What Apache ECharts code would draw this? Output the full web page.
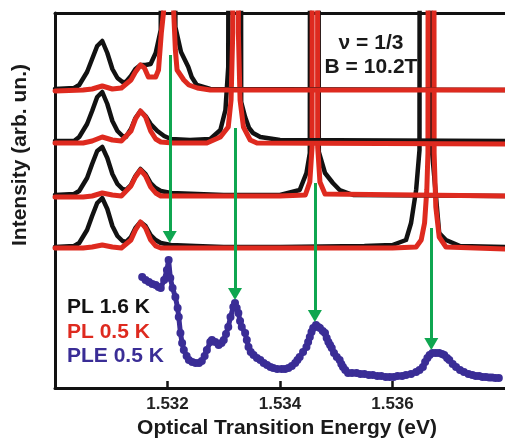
<!DOCTYPE html>
<html>
<head>
<meta charset="utf-8">
<script src="https://cdn.jsdelivr.net/npm/echarts@6/dist/echarts.min.js"></script>
<style>
  html, body { margin: 0; padding: 0; background: #fff; }
  #chart { width: 505px; height: 440px; }
</style>
</head>
<body>
<div id="chart"></div>
<script>
// energy (eV), intensity (arb. un., traces already offset)
const pl16Trace1 = [
  [1.5300, 299], [1.53034, 300], [1.53043, 303], [1.53057, 316], [1.53066, 329], [1.53075, 342],
  [1.53084, 347], [1.53093, 335], [1.53102, 319], [1.53111, 310], [1.53120, 306], [1.53126, 306],
  [1.53135, 312], [1.53143, 319], [1.53152, 323], [1.53161, 323], [1.53170, 324], [1.53179, 335],
  [1.53188, 358], [1.53200, 5000], [1.53214, 361], [1.53224, 336], [1.53237, 321], [1.53243, 311],
  [1.53252, 303], [1.53276, 299], [1.5380, 298]
];
const pl05Trace1 = [
  [1.5300, 297], [1.53050, 298], [1.53066, 299], [1.53084, 302], [1.53102, 299], [1.53118, 300],
  [1.53135, 308], [1.53143, 316], [1.53152, 323], [1.53159, 320], [1.53166, 311], [1.53179, 311],
  [1.53184, 318], [1.53189, 355], [1.53193, 376], [1.53202, 4000], [1.53211, 376], [1.53214, 338],
  [1.53217, 318], [1.53229, 308], [1.53238, 303], [1.53253, 300], [1.53276, 298], [1.5380, 298]
];
const pl16Trace2 = [
  [1.5300, 247], [1.53034, 247], [1.53043, 251], [1.53057, 264], [1.53066, 277], [1.53075, 291],
  [1.53084, 296], [1.53093, 284], [1.53102, 267], [1.53111, 257], [1.53120, 252], [1.53126, 251],
  [1.53135, 259], [1.53143, 270], [1.53152, 277], [1.53161, 272], [1.53170, 264], [1.53182, 257],
  [1.53194, 252], [1.53206, 249], [1.53240, 248], [1.53276, 249], [1.53294, 258], [1.53303, 278],
  [1.53308, 321], [1.53320, 5000], [1.53331, 286], [1.53338, 271], [1.53345, 260], [1.53352, 255],
  [1.53365, 251], [1.53400, 248], [1.5380, 247]
];
const pl05Trace2 = [
  [1.5300, 245], [1.53050, 245], [1.53066, 247], [1.53084, 251], [1.53102, 248], [1.53118, 247],
  [1.53135, 257], [1.53143, 269], [1.53152, 277], [1.53161, 271], [1.53170, 257], [1.53179, 249],
  [1.53188, 246], [1.53210, 245], [1.53270, 245], [1.53294, 251], [1.53308, 261], [1.53313, 288],
  [1.53316, 355], [1.53321, 4000], [1.53326, 355], [1.53329, 288], [1.53335, 261], [1.53347, 248],
  [1.53359, 245], [1.5380, 244]
];
const pl16Trace3 = [
  [1.5300, 193], [1.53034, 194], [1.53043, 197], [1.53057, 210], [1.53066, 224], [1.53075, 237],
  [1.53084, 241], [1.53093, 230], [1.53102, 214], [1.53111, 204], [1.53120, 199], [1.53126, 198],
  [1.53135, 203], [1.53143, 212], [1.53152, 219], [1.53161, 214], [1.53170, 205], [1.53179, 200],
  [1.53188, 197], [1.53206, 195], [1.53300, 193], [1.53400, 193], [1.53435, 198], [1.53447, 215],
  [1.53453, 235], [1.53461, 5000], [1.53469, 236], [1.53480, 215], [1.53494, 205], [1.53506, 198],
  [1.53530, 193], [1.5380, 192]
];
const pl05Trace3 = [
  [1.5300, 191], [1.53050, 191], [1.53066, 192], [1.53084, 195], [1.53102, 193], [1.53118, 192],
  [1.53135, 202], [1.53143, 211], [1.53152, 218], [1.53161, 212], [1.53170, 201], [1.53179, 195],
  [1.53188, 192], [1.53400, 192], [1.53445, 193], [1.53453, 206], [1.53457, 241], [1.53462, 4000],
  [1.53467, 241], [1.53471, 206], [1.53480, 194], [1.5380, 192]
];
const pl16Trace4 = [
  [1.5300, 141], [1.53034, 142], [1.53043, 145], [1.53057, 158], [1.53066, 172], [1.53075, 185],
  [1.53084, 190], [1.53093, 179], [1.53102, 162], [1.53111, 152], [1.53120, 147], [1.53126, 146],
  [1.53135, 151], [1.53143, 160], [1.53152, 166], [1.53161, 162], [1.53170, 153], [1.53179, 148],
  [1.53188, 145], [1.53206, 143], [1.53250, 142], [1.53300, 141], [1.53400, 141], [1.53550, 142],
  [1.53600, 143], [1.53624, 148], [1.53633, 165], [1.53642, 198], [1.53648, 238], [1.53653, 5000],
  [1.53668, 251], [1.53683, 155], [1.53695, 148], [1.53720, 142], [1.5380, 141]
];
const pl05Trace4 = [
  [1.5300, 140], [1.53050, 140], [1.53066, 141], [1.53084, 143], [1.53102, 141], [1.53118, 140],
  [1.53135, 148], [1.53143, 158], [1.53152, 166], [1.53161, 160], [1.53170, 148], [1.53179, 142],
  [1.53188, 140], [1.53400, 140], [1.53600, 140], [1.53642, 141], [1.53651, 148], [1.53657, 165],
  [1.53661, 198], [1.53663, 235], [1.53669, 4000], [1.53674, 235], [1.53677, 181], [1.53683, 151],
  [1.53695, 141], [1.5380, 139]
];
const ple05 = [
  [1.53155, 111], [1.53161, 108], [1.53167, 106], [1.53173, 104], [1.53179, 103], [1.53184, 101],
  [1.53188, 100], [1.53194, 108], [1.53199, 118], [1.53202, 128], [1.53205, 110], [1.53209, 100],
  [1.53214, 91], [1.53218, 80], [1.53220, 71], [1.53223, 55], [1.53226, 45], [1.53229, 38],
  [1.53234, 32], [1.53238, 28], [1.53244, 26], [1.53250, 25], [1.53256, 25], [1.53261, 27],
  [1.53266, 32], [1.53270, 38], [1.53276, 46], [1.53279, 48], [1.53285, 46], [1.53291, 43],
  [1.53296, 45], [1.53300, 48], [1.53304, 54], [1.53308, 61], [1.53312, 71], [1.53317, 81],
  [1.53320, 85], [1.53323, 80], [1.53326, 75], [1.53329, 67], [1.53332, 61], [1.53338, 55],
  [1.53341, 48], [1.53344, 41], [1.53348, 36], [1.53353, 33], [1.53359, 30], [1.53365, 28],
  [1.53371, 25], [1.53377, 23], [1.53383, 21], [1.53388, 20], [1.53395, 19], [1.53403, 19],
  [1.53409, 19], [1.53415, 20], [1.53421, 22], [1.53427, 25], [1.53431, 28], [1.53435, 31],
  [1.53441, 36], [1.53447, 41], [1.53450, 46], [1.53453, 51], [1.53456, 56], [1.53459, 60],
  [1.53464, 63], [1.53468, 61], [1.53471, 60], [1.53476, 57], [1.53480, 55], [1.53483, 50],
  [1.53486, 46], [1.53489, 43], [1.53492, 40], [1.53496, 35], [1.53501, 31], [1.53506, 28],
  [1.53509, 24], [1.53512, 21], [1.53516, 18], [1.53521, 15], [1.53528, 15], [1.53536, 15],
  [1.53543, 14], [1.53550, 14], [1.53558, 13], [1.53565, 13], [1.53573, 12], [1.53580, 12],
  [1.53588, 11], [1.53595, 11], [1.53602, 11], [1.53609, 12], [1.53617, 12], [1.53624, 13],
  [1.53633, 14], [1.53642, 16], [1.53648, 18], [1.53654, 21], [1.53658, 26], [1.53662, 30],
  [1.53666, 33], [1.53671, 35], [1.53677, 35], [1.53683, 35], [1.53688, 34], [1.53692, 33],
  [1.53697, 30], [1.53701, 28], [1.53707, 24], [1.53713, 21], [1.53720, 18], [1.53727, 16],
  [1.53735, 14], [1.53742, 13], [1.53748, 12], [1.53754, 12], [1.53760, 11], [1.53766, 11],
  [1.53772, 10.5], [1.53777, 10.5], [1.53783, 10], [1.53789, 10]
];

// green arrows: from PL peak down to PLE peak
const arrowEnergy = [1.53204, 1.53320, 1.53462, 1.53669];
const arrowFrom = [333, 260, 205, 160];
const arrowTo = [145, 88, 66, 38];

const xTicks = [1.532, 1.534, 1.536];

const FONT = '"Liberation Sans", Arial, sans-serif';
const BLACK = '#121212';
const RED = '#de2a1f';
const BLUE = '#3a2d96';
const GREEN = '#0fa650';
const HEAD = 12;

const chart = echarts.init(document.getElementById('chart'));

const plLine = (name, data, color, width) => ({
  name: name,
  type: 'line',
  data: data,
  showSymbol: false,
  symbol: 'none',
  clip: true,
  silent: true,
  lineStyle: { color: color, width: width, join: 'round', cap: 'round' },
  z: 2
});

const option = {
  animation: false,
  backgroundColor: '#fff',
  grid: { left: 55, right: 0, top: 13, bottom: 52 },
  xAxis: [
    {
      type: 'value',
      min: 1.530,
      max: 1.538,
      interval: 0.002,
      axisLine: { show: true, lineStyle: { color: BLACK, width: 3 } },
      axisTick: { show: true, inside: true, length: 7, lineStyle: { color: BLACK, width: 2.5 } },
      axisLabel: {
        margin: 8,
        showMinLabel: false,
        showMaxLabel: false,
        color: '#222',
        fontFamily: FONT,
        fontWeight: 'bold',
        fontSize: 17,
        formatter: (v) => {
          const hit = xTicks.find((t) => Math.abs(t - v) < 1e-6);
          return hit === undefined ? '' : hit.toFixed(3);
        }
      },
      splitLine: { show: false }
    },
    {
      type: 'value',
      position: 'top',
      min: 1.530,
      max: 1.538,
      axisLine: { show: true, lineStyle: { color: BLACK, width: 3 } },
      axisTick: { show: false },
      axisLabel: { show: false },
      splitLine: { show: false }
    }
  ],
  yAxis: {
    type: 'value',
    min: 0,
    max: 375,
    axisLine: { show: true, lineStyle: { color: BLACK, width: 3 } },
    axisTick: { show: false },
    axisLabel: { show: false },
    splitLine: { show: false }
  },
  series: [
    plLine('PL 1.6 K #4', pl16Trace4, BLACK, 4.5),
    plLine('PL 0.5 K #4', pl05Trace4, RED, 5),
    plLine('PL 1.6 K #3', pl16Trace3, BLACK, 4.5),
    plLine('PL 0.5 K #3', pl05Trace3, RED, 5),
    plLine('PL 1.6 K #2', pl16Trace2, BLACK, 4.5),
    plLine('PL 0.5 K #2', pl05Trace2, RED, 5),
    plLine('PL 1.6 K #1', pl16Trace1, BLACK, 4.5),
    plLine('PL 0.5 K #1', pl05Trace1, RED, 5),
    {
      name: 'PLE 0.5 K',
      type: 'line',
      data: ple05,
      symbol: 'circle',
      symbolSize: 8,
      showSymbol: true,
      showAllSymbol: true,
      silent: true,
      itemStyle: { color: BLUE, borderWidth: 0 },
      lineStyle: { color: BLUE, width: 5 },
      z: 3,
      markLine: {
        silent: true,
        symbol: ['none', 'triangle'],
        symbolSize: [14, HEAD],
        label: { show: false },
        lineStyle: { color: GREEN, width: 3, type: 'solid' },
        z: 5,
        data: arrowEnergy.map((e, i) => [
          { coord: [e, arrowFrom[i]] },
          { coord: [e, arrowTo[i] + HEAD / 2] }
        ])
      }
    }
  ],
  graphic: [
    {
      type: 'text', x: 20, y: 155, rotation: Math.PI / 2,
      style: { text: 'Intensity (arb. un.)', font: 'bold 21px ' + FONT, fill: '#1a1a1a', align: 'center', verticalAlign: 'middle' }
    },
    {
      type: 'text', x: 287, y: 428,
      style: { text: 'Optical Transition Energy (eV)', font: 'bold 21px ' + FONT, fill: '#1a1a1a', align: 'center', verticalAlign: 'middle' }
    },
    {
      type: 'text', x: 371, y: 43,
      style: { text: 'ν = 1/3', font: 'bold 21px ' + FONT, fill: '#1a1a1a', align: 'center', verticalAlign: 'middle' }
    },
    {
      type: 'text', x: 371, y: 67,
      style: { text: 'B = 10.2T', font: 'bold 21px ' + FONT, fill: '#1a1a1a', align: 'center', verticalAlign: 'middle' }
    },
    {
      type: 'text', x: 67, y: 307,
      style: { text: 'PL 1.6 K', font: 'bold 21px ' + FONT, fill: BLACK, align: 'left', verticalAlign: 'middle' }
    },
    {
      type: 'text', x: 67, y: 332,
      style: { text: 'PL 0.5 K', font: 'bold 21px ' + FONT, fill: RED, align: 'left', verticalAlign: 'middle' }
    },
    {
      type: 'text', x: 67, y: 356,
      style: { text: 'PLE 0.5 K', font: 'bold 21px ' + FONT, fill: BLUE, align: 'left', verticalAlign: 'middle' }
    }
  ]
};

chart.setOption(option);
</script>
</body>
</html>
